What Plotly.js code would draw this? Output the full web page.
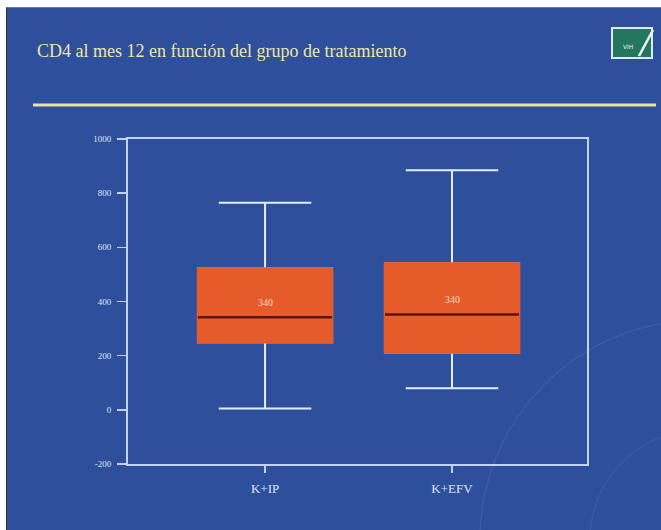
<!DOCTYPE html>
<html>
<head>
<meta charset="utf-8">
<script src="https://cdn.plot.ly/plotly-3.0.1.min.js"></script>
<style>
  html, body { margin: 0; padding: 0; background: #ffffff; width: 661px; height: 530px; overflow: hidden; }
  #chart { position: absolute; left: 6px; top: 7px; width: 654px; height: 522px;
           border-left: 1px solid #333; border-top: 1px solid #777; }
</style>
</head>
<body>
<div id="chart"></div>
<script>
// ---- data ----
const categories = ["K+IP", "K+EFV"];
const lowerWhisker = [5, 80];
const q1Values = [250, 212];
const medianValues = [342, 352];
const q3Values = [522, 540];
const upperWhisker = [765, 885];
const medianLabels = ["340", "340"];
const yTickValues = [-200, 0, 200, 400, 600, 800, 1000];
const yTickLabels = ["-200", "0", "200", "400", "600", "800", "1000"];
const titleText = "CD4 al mes 12 en función del grupo de tratamiento";

const BG = "#2e4f9b";
const ORANGE = "#e65b2a";
const WHITE = "#e4ecff";
const AXIS = "#c3d2f2";
const BOXW = 0.717;

const whiskers = {
  type: "box", x: categories,
  q1: q1Values, median: medianValues, q3: q3Values,
  lowerfence: lowerWhisker, upperfence: upperWhisker,
  width: BOXW, whiskerwidth: 0.69, boxpoints: false,
  line: { color: WHITE, width: 2 }, fillcolor: ORANGE,
  hoverinfo: "skip", showlegend: false
};
const boxes = {
  type: "box", x: categories,
  q1: q1Values, median: medianValues, q3: q3Values,
  lowerfence: q1Values, upperfence: q3Values,
  width: BOXW, whiskerwidth: 0, boxpoints: false,
  line: { color: ORANGE, width: 2.5 }, fillcolor: ORANGE,
  hoverinfo: "skip", showlegend: false
};
const medians = {
  type: "box", x: categories,
  q1: medianValues, median: medianValues, q3: medianValues,
  lowerfence: medianValues, upperfence: medianValues,
  width: BOXW, whiskerwidth: 0, boxpoints: false,
  line: { color: "#5a1509", width: 2.5 }, fillcolor: "rgba(0,0,0,0)",
  hoverinfo: "skip", showlegend: false
};

const annotations = categories.map((c, i) => ({
  x: c, y: medianValues[i], xref: "x", yref: "y",
  text: medianLabels[i], showarrow: false, yshift: 15,
  font: { family: "Liberation Serif, serif", size: 10, color: "#f6d9c8" }
}));
annotations.push({
  x: 1.105, y: 1.300, xref: "paper", yref: "paper",
  text: "VIH", showarrow: false,
  font: { family: "DejaVu Sans, sans-serif", size: 6, color: "#e8f4ea" }
});

const px = v => (v - 128) / 459;   // page x -> paper x
const py = v => (464 - v) / 325;   // page y -> paper y

const shapes = [
  // decorative faint arcs
  { type: "circle", xref: "paper", yref: "paper", layer: "below",
    x0: px(480), x1: px(920), y0: py(760), y1: py(320),
    line: { color: "rgba(150,175,235,0.13)", width: 1.5 } },
  { type: "circle", xref: "paper", yref: "paper", layer: "below",
    x0: px(590), x1: px(810), y0: py(650), y1: py(430),
    line: { color: "rgba(150,175,235,0.10)", width: 1.5 } },
  // yellow rule under title
  { type: "line", xref: "paper", yref: "paper",
    x0: px(33), x1: px(656), y0: py(105), y1: py(105),
    line: { color: "#e9e3a6", width: 3 } },
  // logo
  { type: "rect", xref: "paper", yref: "paper",
    x0: px(612), x1: px(652), y0: py(58), y1: py(28),
    fillcolor: "#23775e", line: { color: "#dfe9f5", width: 2 } },
  { type: "line", xref: "paper", yref: "paper",
    x0: px(639), x1: px(653), y0: py(56), y1: py(30),
    line: { color: "#f2f6f2", width: 2.5 } }
];

const layout = {
  width: 654, height: 522,
  margin: { l: 121, r: 74, t: 131, b: 66 },
  paper_bgcolor: BG, plot_bgcolor: "rgba(0,0,0,0)",
  boxmode: "overlay",
  showlegend: false,
  title: {
    text: titleText, xref: "container", yref: "container",
    x: 30 / 654, xanchor: "left", y: 1 - 43 / 522, yanchor: "middle",
    font: { family: "Liberation Serif, Times New Roman, serif", size: 18, color: "#ece5a5" }
  },
  xaxis: {
    type: "category", range: [-0.733, 1.722],
    showline: true, linecolor: AXIS, linewidth: 2, mirror: true,
    ticks: "outside", ticklen: 7, tickwidth: 1.5, tickcolor: AXIS,
    ticklabelstandoff: 4,
    showgrid: false, zeroline: false, fixedrange: true,
    tickfont: { family: "Liberation Serif, serif", size: 13, color: "#dfe6f6" }
  },
  yaxis: {
    range: [-200, 1000], tickmode: "array",
    tickvals: yTickValues, ticktext: yTickLabels,
    showline: true, linecolor: AXIS, linewidth: 2, mirror: true,
    ticks: "outside", ticklen: 9, tickwidth: 1.5, tickcolor: AXIS,
    ticklabelstandoff: 4,
    showgrid: false, zeroline: false, fixedrange: true,
    tickfont: { family: "Liberation Serif, serif", size: 9, color: "#dfe6f6" }
  },
  annotations: annotations,
  shapes: shapes
};

Plotly.newPlot("chart", [whiskers, boxes, medians], layout, { displayModeBar: false, staticPlot: true });
</script>
</body>
</html>
